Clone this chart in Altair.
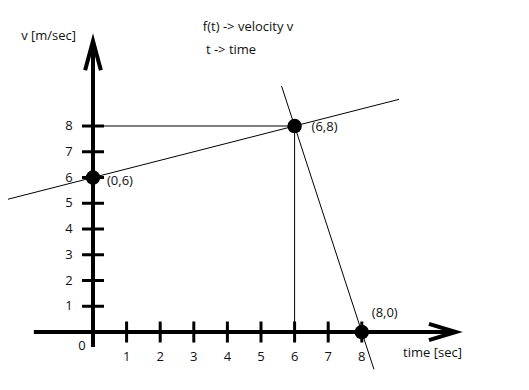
import altair as alt
import pandas as pd

# ---- data ----
point_x = [0, 6, 8]
point_y = [6, 8, 0]
point_labels = ["(0,6)", "(6,8)", "(8,0)"]

x_ticks = [1, 2, 3, 4, 5, 6, 7, 8]
y_ticks = [1, 2, 3, 4, 5, 6, 7, 8]

# extents of the drawn axes (data units)
x_axis_extent = [-1.76, 10.8]
y_axis_extent = [-0.58, 11.3]

# extents of the two drawn straight lines
lineA_x_extent = [-2.53, 9.11]   # through (0,6) and (6,8)
lineB_y_extent = [9.55, -1.45]   # through (6,8) and (8,0)

annot_text = ["v [m/sec]", "f(t) -> velocity v", "t -> time", "time [sec]"]
annot_x = [-1.32, 3.27, 3.36, 9.23]
annot_y = [11.5, 11.84, 10.95, -0.82]
annot_align = ["center", "left", "left", "left"]

FONT = "Open Sans"
FS = 13
xs = alt.Scale(domain=[-2.5298, 12.649], nice=False, zero=False)
ys = alt.Scale(domain=[-1.786, 12.583], nice=False, zero=False)


def X(f="x"):
    return alt.X(f"{f}:Q", scale=xs, axis=None)


def Y(f="y"):
    return alt.Y(f"{f}:Q", scale=ys, axis=None)


# line A through points 0 and 1
sA = (point_y[1] - point_y[0]) / (point_x[1] - point_x[0])
# line B through points 1 and 2
sB = (point_y[2] - point_y[1]) / (point_x[2] - point_x[1])

thin = pd.DataFrame({
    "x": [lineA_x_extent[0],
          point_x[1] + (lineB_y_extent[0] - point_y[1]) / sB,
          0, point_x[1]],
    "y": [point_y[0] + sA * (lineA_x_extent[0] - point_x[0]),
          lineB_y_extent[0],
          point_y[1], point_y[1]],
    "x2": [lineA_x_extent[1],
           point_x[1] + (lineB_y_extent[1] - point_y[1]) / sB,
           point_x[1], point_x[1]],
    "y2": [point_y[0] + sA * (lineA_x_extent[1] - point_x[0]),
           lineB_y_extent[1],
           point_y[1], 0],
})

thin_layer = alt.Chart(thin).mark_rule(color="black", strokeWidth=1).encode(
    x=X(), y=Y(), x2="x2:Q", y2="y2:Q")

axes = pd.DataFrame({
    "x": [x_axis_extent[0], 0],
    "y": [0, y_axis_extent[0]],
    "x2": [x_axis_extent[1], 0],
    "y2": [0, y_axis_extent[1]],
})
axes_layer = alt.Chart(axes).mark_rule(color="black", strokeWidth=4, strokeCap="butt").encode(
    x=X(), y=Y(), x2="x2:Q", y2="y2:Q")

arrow_x = alt.Chart(pd.DataFrame({"x": [x_axis_extent[1]], "y": [0]})).mark_point(
    shape="M-1,-0.3L0,0L-1,0.3", size=2900, filled=False, stroke="black",
    strokeWidth=4, opacity=1).encode(x=X(), y=Y())
arrow_y = alt.Chart(pd.DataFrame({"x": [0], "y": [y_axis_extent[1]]})).mark_point(
    shape="M-0.27,1L0,0L0.27,1", size=3400, filled=False, stroke="black",
    strokeWidth=4, opacity=1).encode(x=X(), y=Y())

yt = pd.DataFrame({"x": [0] * len(y_ticks), "y": y_ticks, "t": [str(v) for v in y_ticks]})
xt = pd.DataFrame({"x": x_ticks, "y": [0] * len(x_ticks), "t": [str(v) for v in x_ticks]})

ytick_layer = alt.Chart(yt).mark_tick(orient="horizontal", size=22, thickness=3,
                                      color="black", opacity=1).encode(x=X(), y=Y())
xtick_layer = alt.Chart(xt).mark_tick(orient="vertical", size=21, thickness=3,
                                      color="black", opacity=1).encode(x=X(), y=Y())

ylab_layer = alt.Chart(yt).mark_text(font=FONT, fontSize=FS, color="#111", dx=-24,
                                     align="center", baseline="middle").encode(
    x=X(), y=Y(), text="t:N")
xlab_layer = alt.Chart(xt).mark_text(font=FONT, fontSize=FS, color="#111", dy=25,
                                     align="center", baseline="middle").encode(
    x=X(), y=Y(), text="t:N")
zero_layer = alt.Chart(pd.DataFrame({"x": [0], "y": [0], "t": ["0"]})).mark_text(
    font=FONT, fontSize=FS, color="#111", dx=-11, dy=14, baseline="middle").encode(
    x=X(), y=Y(), text="t:N")

pts = pd.DataFrame({"x": point_x, "y": point_y, "t": point_labels,
                    "dx": [14, 17, 10], "dy": [3, 1, -19]})
pts_layer = alt.Chart(pts).mark_circle(size=210, color="black", opacity=1).encode(x=X(), y=Y())

plabel_layers = [
    alt.Chart(pts.iloc[[i]]).mark_text(font=FONT, fontSize=FS, color="#111", align="left",
                                       baseline="middle", dx=int(pts.dx[i]), dy=int(pts.dy[i])).encode(
        x=X(), y=Y(), text="t:N")
    for i in range(len(pts))
]

annot = pd.DataFrame({"x": annot_x, "y": annot_y, "t": annot_text, "a": annot_align})
annot_layers = [
    alt.Chart(annot.iloc[[i]]).mark_text(font=FONT, fontSize=FS, color="#111",
                                         align=annot_align[i], baseline="middle").encode(
        x=X(), y=Y(), text="t:N")
    for i in range(len(annot))
]

chart = alt.layer(
    thin_layer, axes_layer, arrow_x, arrow_y, ytick_layer, xtick_layer,
    ylab_layer, xlab_layer, zero_layer, pts_layer, *plabel_layers, *annot_layers
).properties(
    width=510, height=370,
    autosize=alt.AutoSizeParams(type="none"),
    padding=0,
).configure_view(stroke=None)

chart.save("out.html", embed_options={"renderer": "svg", "actions": False})
